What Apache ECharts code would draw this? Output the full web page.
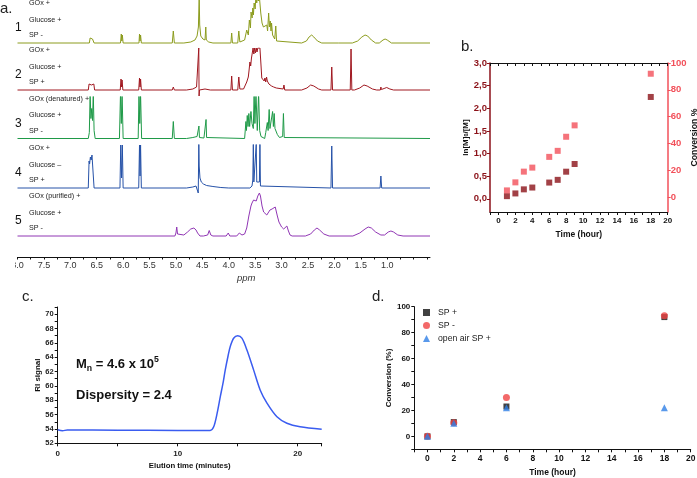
<!DOCTYPE html>
<html lang="en">
<head>
    <meta charset="UTF-8">
    <script type="text/javascript" src="https://cdn.jsdelivr.net/npm/echarts@6/dist/echarts.min.js"></script>
    <style>
        body { margin: 0; background: #fff; }
        #main { position: absolute; left: 0; top: 0; width: 697px; height: 478px; }
        #spectra { position: absolute; left: 15px; top: 0; width: 440px; height: 290px; }
    </style>
</head>
<body>
<div id="main"></div>
<div id="spectra"></div>
<script type="text/javascript">
    // ---- panel a: 1H NMR traces, [ppm, intensity (a.u.)] ----
    var trace1 = [[8.0,0],[6.70,0],[6.64,0],[6.625,5],[6.61,3],[6.595,6],[6.58,4],[6.565,5],[6.55,0],
        [6.05,0],[6.035,9],[6.025,2],[6.015,8],[6.0,0],
        [5.70,0],[5.69,9],[5.68,2],[5.67,8],[5.655,0],
        [5.07,0],[5.05,12],[5.03,0],
        [4.85,0],[4.72,1],[4.64,3],[4.60,7],[4.575,16],[4.56,46],[4.55,18],[4.53,7],[4.49,4],[4.45,3],[4.435,16],[4.425,3],[4.38,1],[4.30,0],
        [3.96,0],[3.945,10],[3.93,0],[3.83,0],[3.81,12],[3.79,1],
        [3.70,3],[3.66,13],[3.63,8],[3.61,23],[3.59,15],[3.578,31],[3.558,25],[3.545,35],[3.533,28],[3.52,40],[3.50,34],[3.488,46],[3.47,40],[3.457,46],[3.44,42],[3.42,46],[3.394,30],[3.37,20],[3.344,16],[3.31,14],[3.28,18],[3.265,12],[3.245,30],[3.23,16],[3.215,22],[3.20,12],[3.19,20],[3.17,8],[3.15,10],[3.13,4],[3.11,17],[3.095,2],[3.08,0],
        [2.62,0],[2.53,2],[2.48,6],[2.43,8],[2.39,6],[2.32,2],[2.24,0],
        [1.92,0],[1.91,2],[1.90,0],
        [1.66,0],[1.56,2],[1.48,6],[1.42,8],[1.37,7],[1.30,3],[1.22,0],
        [1.15,0],[1.08,3],[1.04,4],[1.00,3],[0.92,0],[0.19,0]];
    var trace2 = [[8.0,0],[6.66,0],[6.645,6],[6.63,4],[6.615,7],[6.60,5],[6.585,7],[6.57,5],[6.555,6],[6.54,0],
        [6.055,0],[6.04,11],[6.03,3],[6.02,10],[6.005,0],
        [5.705,0],[5.69,12],[5.68,3],[5.67,11],[5.655,0],
        [5.07,0],[5.05,3],[5.03,0],
        [4.80,0],[4.68,1],[4.61,3],[4.58,4],[4.568,42],[4.562,-6],[4.555,0],[4.52,1.5],[4.45,1],[4.435,3],[4.425,1],[4.35,0],
        [3.96,0],[3.945,14],[3.93,0],[3.83,0],[3.81,13],[3.79,1],
        [3.72,1],[3.66,8],[3.63,13],[3.615,20],[3.60,28],[3.585,24],[3.57,32],[3.555,30],[3.54,42],[3.525,36],[3.51,42],[3.495,37],[3.48,42],[3.465,38],[3.45,42],[3.43,40],[3.41,42],[3.39,25],[3.375,12],[3.36,10],[3.345,13],[3.33,9],[3.315,12],[3.30,8],[3.285,13],[3.27,9],[3.255,11],[3.24,6],[3.22,8],[3.19,4],[3.15,3],[3.10,2],[2.97,1],[2.955,5],[2.94,0],
        [2.62,0],[2.52,2],[2.45,5],[2.39,4],[2.30,1],[2.24,0],
        [2.065,0],[2.05,23],[2.035,0],
        [1.70,0],[1.685,41],[1.67,0],
        [1.62,0],[1.52,2],[1.44,5],[1.38,4],[1.28,1],[1.20,0],
        [1.13,0],[1.12,3],[1.11,0.5],[1.06,1.5],[1.01,2.5],[0.95,1],[0.88,0],[0.19,0]];
    var trace3 = [[8.0,0],[6.66,0],[6.64,6],[6.625,45],[6.61,20],[6.595,30],[6.58,18],[6.565,45],[6.55,8],[6.53,0],
        [6.07,0],[6.05,45],[6.035,15],[6.02,45],[6.0,0],
        [5.715,0],[5.70,45],[5.685,15],[5.67,45],[5.65,0],
        [5.07,0],[5.05,17],[5.03,0],
        [4.80,0],[4.68,1],[4.60,2],[4.575,3],[4.565,12.5],[4.555,1],[4.52,1],[4.47,0.5],[4.44,1],[4.43,19],[4.42,1],[4.39,0],
        [3.70,0],[3.675,17],[3.665,8],[3.65,23],[3.635,12],[3.62,25],[3.605,12],[3.58,27],[3.56,15],[3.535,10],[3.52,45],[3.505,15],[3.485,45],[3.46,8],[3.435,45],[3.415,8],[3.39,2],[3.37,0],
        [3.32,0],[3.30,6],[3.28,4],[3.27,16],[3.255,8],[3.235,29],[3.22,10],[3.205,12],[3.19,8],[3.17,27],[3.155,12],[3.14,25],[3.125,10],[3.11,9],[3.08,4],[3.04,1],[2.98,2],[2.965,25],[2.95,1],[2.92,0],[0.19,0]];
    var trace4 = [[8.0,0],[6.66,0],[6.645,27],[6.635,24],[6.62,31],[6.605,28],[6.59,33],[6.575,31],[6.56,35],[6.55,0],
        [6.06,0],[6.045,43],[6.03,10],[6.015,43],[6.0,0],
        [5.705,0],[5.69,43],[5.68,12],[5.67,43],[5.655,0],
        [4.80,0],[4.68,1],[4.62,2],[4.59,1],[4.578,-5],[4.567,44],[4.56,22],[4.545,10],[4.52,6],[4.48,4],[4.42,2.5],[4.30,1.5],[4.15,0.5],[4.0,0],
        [3.60,0],[3.56,2],[3.545,8],[3.535,44],[3.525,6],[3.49,8],[3.48,44],[3.47,6],[3.42,6],[3.41,44],[3.40,2],[3.38,0],
        [2.065,0],[2.05,42],[2.035,0],
        [1.135,0],[1.12,12],[1.105,0],[0.19,0]];
    var trace5 = [[8.0,0],[5.02,0],[5.00,3],[4.985,9],[4.97,2],[4.94,0],[4.85,1],[4.78,4],[4.72,7],[4.66,8],[4.62,6],[4.59,3],[4.575,1],[4.56,2],[4.545,0],[4.52,1],[4.48,0],[4.40,1],[4.37,5.5],[4.34,1],[4.30,0],
        [4.05,0],[4.01,3],[3.98,0],[3.85,0],[3.80,3],[3.78,4],[3.75,1],[3.70,2],[3.66,8],[3.62,20],[3.58,30],[3.56,33],[3.53,36],[3.50,38],[3.48,35],[3.45,40],[3.42,43],[3.40,40],[3.37,30],[3.34,24],[3.31,23],[3.28,21],[3.25,23],[3.22,26],[3.18,27],[3.12,29],[3.08,20],[3.05,14],[3.00,9],[2.96,7],[2.93,6],[2.90,10],[2.87,5],[2.84,1],[2.80,0],
        [2.55,0],[2.45,2],[2.38,6],[2.33,8],[2.28,6],[2.20,2],[2.10,0],
        [1.65,0],[1.52,3],[1.42,7],[1.36,9],[1.30,8],[1.22,4],[1.12,1],[1.05,1],[0.98,4],[0.93,5],[0.88,4],[0.80,1],[0.70,0],[0.19,0]];
    var conditions = [
        ['GOx +', 'Glucose +', 'SP -'],
        ['GOx +', 'Glucose +', 'SP +'],
        ['GOx (denatured) +', 'Glucose +', 'SP -'],
        ['GOx +', 'Glucose \u2013', 'SP +'],
        ['GOx (purified) +', 'Glucose +', 'SP -']
    ];
    var ppmLabels = [8.0, 7.5, 7.0, 6.5, 6.0, 5.5, 5.0, 4.5, 4.0, 3.5, 3.0, 2.5, 2.0, 1.5, 1.0];
    var ppmTicks = [8.0, 7.75, 7.5, 7.25, 7.0, 6.75, 6.5, 6.25, 6.0, 5.75, 5.5, 5.25, 5.0, 4.75, 4.5, 4.25,
        4.0, 3.75, 3.5, 3.25, 3.0, 2.75, 2.5, 2.25, 2.0, 1.75, 1.5, 1.25, 1.0, 0.75, 0.5, 0.25];

    // ---- panel b ----
    var timeB = [1, 2, 3, 4, 6, 7, 8, 9, 18];
    var lnM = [0.06, 0.12, 0.21, 0.25, 0.36, 0.42, 0.60, 0.77, 2.25];
    var convB = [5, 11, 19, 22, 30, 34.5, 45, 53.5, 92];
    var lnTicks = [0, 0.5, 1.0, 1.5, 2.0, 2.5, 3.0];
    var convTicks = [0, 20, 40, 60, 80, 100];

    // ---- panel c: GPC trace ----
    var elution = [0, 0.4, 0.8, 5, 10, 12.7, 13.0, 13.3, 13.55, 13.8, 13.96, 14.2, 14.38, 14.66, 15.0, 15.35, 15.77, 16.33, 16.88, 17.44, 18.27, 19.1, 20.2, 22.0];
    var riSignal = [53.9, 53.75, 53.85, 53.82, 53.8, 53.8, 54.3, 56.3, 58.5, 60.6, 62.2, 64.2, 65.5, 66.65, 67.0, 66.65, 65.0, 62.2, 59.4, 57.6, 55.7, 54.8, 54.3, 53.95];

    // ---- panel d ----
    var timeD = [0, 2, 6, 18];
    var spPlus = [0, 11, 23, 92];
    var spMinus = [0, 10.5, 30, 93];
    var openAirSpPlus = [0, 10, 22, 22];

    var FONT = '"Liberation Sans", Arial, sans-serif';
    var traces = [trace1, trace2, trace3, trace4, trace5];
    var traceColors = ['#8c9c1e', '#a01820', '#1f9a48', '#2652a8', '#9036b4'];
    var traceBase = [43, 90, 138.5, 188, 236];
    var traceHead = [43, 42, 41.5, 43, 43];

    function zip(xs, ys) {
        return xs.map(function (x, i) { return [x, ys[i]]; });
    }

    // spectra chart (its div starts at x=15, so the "8" of 8.0 is cut as in the figure)
    var grids = [], xAxes = [], yAxes = [], series = [], texts = [];
    traces.forEach(function (tr, i) {
        grids.push({left: 2.5, width: 412.5, top: traceBase[i] - traceHead[i], height: traceHead[i] + 8,
            outerBoundsMode: 'none'});
        var last = i === traces.length - 1;
        xAxes.push({
            gridIndex: i, type: 'value', inverse: true, min: 0.19, max: 8.0,
            show: last, offset: 13,
            axisLine: {onZero: false, lineStyle: {color: '#111', width: 1}},
            axisTick: {customValues: ppmTicks, length: 2.5, lineStyle: {color: '#111'}},
            axisLabel: {customValues: ppmLabels, formatter: function (v) { return v.toFixed(1); },
                fontFamily: FONT, fontSize: 9, color: '#333', margin: 4},
            splitLine: {show: false}
        });
        yAxes.push({gridIndex: i, type: 'value', min: -8, max: traceHead[i], show: false, splitLine: {show: false}});
        series.push({
            type: 'line', xAxisIndex: i, yAxisIndex: i, data: tr, showSymbol: false, clip: true,
            silent: true, lineStyle: {color: traceColors[i], width: 1}
        });
        conditions[i].forEach(function (t, k) {
            texts.push({type: 'text', left: 14, top: traceBase[i] + [-43, -26.5, -11][k],
                style: {text: t, font: '7.2px ' + FONT, fill: '#222'}});
        });
        texts.push({type: 'text', left: 0, top: traceBase[i] - 21,
            style: {text: String(i + 1), font: '12px ' + FONT, fill: '#111'}});
    });
    texts.push({type: 'text', left: 222, top: 273, style: {text: 'ppm', font: 'italic 9.5px ' + FONT, fill: '#333'}});

    var spectra = echarts.init(document.getElementById('spectra'));
    spectra.setOption({
        animation: false,
        grid: grids, xAxis: xAxes, yAxis: yAxes, series: series, graphic: texts
    });

    // panels b, c, d
    function tickLabel(size, color) {
        return {fontFamily: FONT, fontSize: size, fontWeight: 'bold', color: color};
    }
    function axisName(size) {
        return {fontFamily: FONT, fontSize: size, fontWeight: 'bold', color: '#111'};
    }
    var black = {onZero: false, lineStyle: {color: '#111', width: 1}};
    var dark = '#8b1118', light = '#f2505a';

    var main = echarts.init(document.getElementById('main'));
    main.setOption({
        animation: false,
        grid: [
            {left: 490, top: 63, width: 177.7, height: 149, outerBoundsMode: 'none'},
            {left: 57.7, top: 307, width: 264, height: 136.3, outerBoundsMode: 'none'},
            {left: 414.3, top: 306.7, width: 276.4, height: 142.6, outerBoundsMode: 'none'}
        ],
        xAxis: [
            {gridIndex: 0, type: 'value', min: -1, max: 20, interval: 1,
                axisLine: black, axisTick: {length: 3, lineStyle: {color: '#111'}},
                axisLabel: Object.assign(tickLabel(8, '#111'), {margin: 4.5,
                    formatter: function (v) { return (v >= 0 && v % 2 === 0) ? v : ''; }}),
                splitLine: {show: false},
                name: 'Time (hour)', nameLocation: 'middle', nameGap: 18, nameTextStyle: axisName(8.5)},
            {gridIndex: 0, type: 'value', position: 'top', min: -1, max: 20, interval: 1,
                axisLine: black, axisTick: {inside: true, length: 3, lineStyle: {color: '#111'}},
                axisLabel: {show: false}, splitLine: {show: false}},
            {gridIndex: 1, type: 'value', min: 0, max: 22, interval: 5,
                axisLine: black, axisTick: {length: 3, lineStyle: {color: '#111'}},
                axisLabel: Object.assign(tickLabel(8, '#222'), {margin: 6,
                    formatter: function (v) { return (v % 10 === 0 && v <= 20) ? v : ''; }}),
                splitLine: {show: false},
                name: 'Elution time (minutes)', nameLocation: 'middle', nameGap: 19, nameTextStyle: axisName(7.8)},
            {gridIndex: 2, type: 'value', min: -1, max: 20, interval: 1,
                axisLine: black, axisTick: {length: 3, lineStyle: {color: '#111'}},
                axisLabel: Object.assign(tickLabel(8.5, '#111'), {margin: 5,
                    formatter: function (v) { return (v >= 0 && v % 2 === 0) ? v : ''; }}),
                splitLine: {show: false},
                name: 'Time (hour)', nameLocation: 'middle', nameGap: 19, nameTextStyle: axisName(8.5)}
        ],
        yAxis: [
            {gridIndex: 0, type: 'value', min: -0.29, max: 3,
                axisLine: {show: true, onZero: false, lineStyle: {color: dark, width: 1.5}},
                axisTick: {show: true, customValues: lnTicks, length: 3, lineStyle: {color: dark}},
                axisLabel: Object.assign(tickLabel(9.5, dark), {margin: 3, customValues: lnTicks,
                    formatter: function (v) { return v.toFixed(1).replace('.', ','); }}),
                splitLine: {show: false},
                name: '{t|ln[M]}{s|0}{t|/[M]}', nameLocation: 'middle', nameGap: 20,
                nameTextStyle: {rich: {
                    t: {fontFamily: FONT, fontSize: 8, fontWeight: 'bold', color: '#111'},
                    s: {fontFamily: FONT, fontSize: 5.5, fontWeight: 'bold', color: '#111', verticalAlign: 'bottom'}
                }}},
            {gridIndex: 0, type: 'value', position: 'right', min: -11.1, max: 100,
                axisLine: {show: true, onZero: false, lineStyle: {color: light, width: 1.5}},
                axisTick: {show: true, customValues: convTicks, length: 3, lineStyle: {color: light}},
                axisLabel: Object.assign(tickLabel(9.5, light), {margin: 3, customValues: convTicks}),
                splitLine: {show: false},
                name: 'Conversion %', nameLocation: 'middle', nameGap: 21, nameTextStyle: axisName(8.7)},
            {gridIndex: 1, type: 'value', min: 52, max: 71, interval: 1,
                axisLine: {show: true, onZero: false, lineStyle: {color: '#111'}},
                axisTick: {show: true, length: 3, lineStyle: {color: '#111'}},
                axisLabel: Object.assign(tickLabel(7.5, '#222'), {margin: 4,
                    formatter: function (v) { return (v % 2 === 0 && v <= 70) ? v : ''; }}),
                splitLine: {show: false},
                name: 'RI signal', nameLocation: 'middle', nameGap: 16, nameTextStyle: axisName(8)},
            {gridIndex: 2, type: 'value', min: -10, max: 100, interval: 10,
                axisLine: {show: true, onZero: false, lineStyle: {color: '#111'}},
                axisTick: {show: true, length: 3, lineStyle: {color: '#111'}},
                axisLabel: Object.assign(tickLabel(8, '#111'), {margin: 4,
                    formatter: function (v) { return (v >= 0 && v % 20 === 0) ? v : ''; }}),
                splitLine: {show: false},
                name: 'Conversion (%)', nameLocation: 'middle', nameGap: 20, nameTextStyle: axisName(8)}
        ],
        legend: {
            left: 423, top: 308, orient: 'vertical', padding: 0,
            itemWidth: 7, itemHeight: 7, itemGap: 4,
            textStyle: {fontFamily: FONT, fontSize: 8.7, color: '#222', padding: [0, 0, 0, 3]},
            data: ['SP +', 'SP -', 'open air SP +']
        },
        series: [
            {type: 'scatter', xAxisIndex: 0, yAxisIndex: 0, symbol: 'rect', symbolSize: 6,
                itemStyle: {color: dark}, data: zip(timeB, lnM)},
            {type: 'scatter', xAxisIndex: 0, yAxisIndex: 1, symbol: 'rect', symbolSize: 6,
                itemStyle: {color: light}, data: zip(timeB, convB)},
            {type: 'line', xAxisIndex: 2, yAxisIndex: 2, data: zip(elution, riSignal),
                showSymbol: false, smooth: 0.3, lineStyle: {color: '#3a5cf0', width: 1.5}},
            {name: 'SP +', type: 'scatter', xAxisIndex: 3, yAxisIndex: 3, symbol: 'rect', symbolSize: 6,
                itemStyle: {color: '#111'}, data: zip(timeD, spPlus)},
            {name: 'SP -', type: 'scatter', xAxisIndex: 3, yAxisIndex: 3, symbol: 'circle', symbolSize: 7,
                itemStyle: {color: '#f04444'}, data: zip(timeD, spMinus)},
            {name: 'open air SP +', type: 'scatter', xAxisIndex: 3, yAxisIndex: 3, symbol: 'triangle', symbolSize: 7,
                itemStyle: {color: '#2f7fe6'}, data: zip(timeD, openAirSpPlus)}
        ],
        graphic: [
            {type: 'text', left: 0, top: 1, style: {text: 'a.', font: '15px ' + FONT, fill: '#222'}},
            {type: 'text', left: 461, top: 39, style: {text: 'b.', font: '15px ' + FONT, fill: '#222'}},
            {type: 'text', left: 22, top: 289, style: {text: 'c.', font: '15px ' + FONT, fill: '#222'}},
            {type: 'text', left: 372, top: 289, style: {text: 'd.', font: '15px ' + FONT, fill: '#222'}},
            {type: 'text', left: 76, top: 355, style: {
                text: '{a|M}{s|n}{a| = 4.6 x 10}{p|5}',
                rich: {
                    a: {fontFamily: FONT, fontSize: 13, fontWeight: 'bold', fill: '#111', lineHeight: 18},
                    s: {fontFamily: FONT, fontSize: 8.7, fontWeight: 'bold', fill: '#111', verticalAlign: 'bottom'},
                    p: {fontFamily: FONT, fontSize: 8.7, fontWeight: 'bold', fill: '#111', verticalAlign: 'top'}
                }}},
            {type: 'text', left: 76, top: 389, style: {text: 'Dispersity = 2.4', font: 'bold 13px ' + FONT, fill: '#111'}}
        ]
    });
</script>
</body>
</html>
